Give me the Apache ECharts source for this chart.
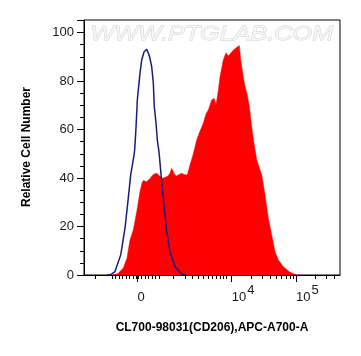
<!DOCTYPE html>
<html>
<head>
<meta charset="utf-8">
<script src="https://cdn.jsdelivr.net/npm/echarts@6/dist/echarts.min.js"></script>
<style>
  html, body { margin: 0; padding: 0; background: #fff; }
  #chart { width: 361px; height: 356px; }
</style>
</head>
<body>
<div id="chart"></div>
<script>
// x is in display units of the biexponential scale: 10^4 -> 4, 10^5 -> 5
const X_MIN = 1.703;
const X_MAX = 5.684;
const ZERO_POS = 2.535;

const xMajorTicks = [ZERO_POS, 4, 5];
const xMajorLabels = ['0', '10|4', '10|5'];
const xMinorTicks = [
  1.874, 2.138, 2.193, 2.247, 2.302, 2.356, 2.411, 2.465, 2.512, 2.551,
  2.597, 2.652, 2.706, 2.760, 2.815, 2.869, 3.087, 3.274, 3.383, 3.476,
  3.554, 3.632, 3.693, 3.764, 3.818, 3.872, 3.919,
  4.301, 4.477, 4.602, 4.699, 4.778, 4.845, 4.903, 4.954,
  5.301, 5.477, 5.602
];

// blue outline: control sample
const controlCurve = [
  [2.061, 0], [2.107, 0], [2.185, 1.4], [2.274, 8.3], [2.341, 19.4],
  [2.392, 31.8], [2.429, 41.3], [2.481, 49.5], [2.491, 51.6], [2.507, 58.6],
  [2.523, 66.8], [2.532, 72.2], [2.547, 76.3], [2.574, 83.3], [2.600, 88.7],
  [2.636, 92.0], [2.678, 93.1], [2.703, 91.6], [2.729, 89.4], [2.745, 90.1],
  [2.756, 85.9], [2.781, 79.2], [2.796, 69.4], [2.823, 62.7], [2.843, 55.7],
  [2.865, 51.6], [2.874, 49.5], [2.911, 38.5], [2.947, 28.9], [2.989, 17.9],
  [3.040, 9.6], [3.118, 3.4], [3.222, 0.4], [3.289, 0]
];

// red filled: CD206 stained sample
const stainedCurve = [
  [2.158, 0], [2.232, 0.6], [2.314, 2.9], [2.372, 7.0], [2.418, 14.4],
  [2.470, 18.6], [2.523, 26.1], [2.574, 34.4], [2.605, 38.0], [2.625, 39.0],
  [2.652, 39.6], [2.678, 38.5], [2.729, 39.8], [2.781, 41.5], [2.834, 42.0],
  [2.885, 40.6], [2.932, 39.9], [2.963, 40.2], [3.009, 40.8], [3.040, 42.0],
  [3.067, 44.0], [3.087, 44.6], [3.103, 42.0], [3.134, 40.8], [3.170, 41.3],
  [3.222, 42.0], [3.258, 41.5], [3.309, 41.3], [3.351, 45.4], [3.398, 49.5],
  [3.456, 55.7], [3.507, 59.4], [3.558, 62.6], [3.600, 66.4], [3.636, 68.1],
  [3.689, 72.2], [3.725, 72.9], [3.756, 70.1], [3.792, 76.3], [3.818, 81.8],
  [3.844, 85.4], [3.869, 88.7], [3.911, 91.7], [3.947, 90.3], [3.984, 91.5],
  [4.025, 92.8], [4.078, 93.9], [4.118, 94.7], [4.132, 94.1], [4.140, 88.7],
  [4.171, 83.2], [4.207, 77.7], [4.243, 74.3], [4.274, 69.4], [4.311, 61.2],
  [4.347, 54.3], [4.389, 47.4], [4.467, 41.3], [4.518, 33.0], [4.569, 23.4],
  [4.622, 16.5], [4.673, 9.6], [4.725, 6.2], [4.802, 3.4], [4.907, 1.1],
  [5.011, 0]
];

const Y_MAX = 105.2;
const FONT = '"Liberation Sans", Arial, sans-serif';

const chart = echarts.init(document.getElementById('chart'));

// every label gets a (possibly empty) superscript part so all baselines line up
const xLabel = (v) => {
  const i = xMajorTicks.findIndex(t => Math.abs(t - v) < 1e-6);
  if (i < 0) return '';
  const parts = xMajorLabels[i].split('|');
  return '{b|' + parts[0] + '}{s|' + (parts[1] || ' ') + '}';
};

chart.setOption({
  animation: false,
  backgroundColor: '#fff',
  grid: {
    left: 84, right: 21, top: 20, bottom: 81,
    show: true, borderColor: '#000', borderWidth: 1
  },
  xAxis: [
    {
      type: 'value', min: X_MIN, max: X_MAX,
      axisLine: { show: true, lineStyle: { color: '#000', width: 1 } },
      axisTick: { show: true, customValues: xMajorTicks, length: 7, lineStyle: { color: '#000' } },
      axisLabel: {
        show: true, customValues: xMajorTicks, margin: 9, align: 'left',
        formatter: xLabel,
        rich: {
          b: { fontSize: 13, fontFamily: FONT, color: '#1a1a1a', verticalAlign: 'bottom' },
          s: { fontSize: 13, fontFamily: FONT, color: '#1a1a1a', verticalAlign: 'top', padding: [0, 0, 7, 1] }
        }
      },
      splitLine: { show: false }
    },
    {
      type: 'value', min: X_MIN, max: X_MAX, position: 'bottom',
      axisLine: { show: false },
      axisTick: { show: true, customValues: xMinorTicks, length: 4, lineStyle: { color: '#000' } },
      axisLabel: { show: false },
      splitLine: { show: false }
    }
  ],
  yAxis: {
    type: 'value', min: 0, max: Y_MAX, interval: 20,
    axisLine: { show: true, lineStyle: { color: '#000', width: 1 } },
    axisTick: { show: true, length: 7, lineStyle: { color: '#000' } },
    minorTick: { show: true, splitNumber: 4, length: 4, lineStyle: { color: '#000' } },
    axisLabel: { fontSize: 13, fontFamily: FONT, color: '#1a1a1a', margin: 10 },
    splitLine: { show: false }
  },
  series: [
    {
      type: 'line', data: stainedCurve, xAxisIndex: 0,
      symbol: 'none', smooth: false,
      lineStyle: { color: '#ff0000', width: 0.5 },
      areaStyle: { color: '#ff0000', opacity: 1 },
      z: 2
    },
    {
      type: 'line', data: controlCurve, xAxisIndex: 0,
      symbol: 'none', smooth: false,
      lineStyle: { color: '#1a1a80', width: 1.5 },
      z: 3
    }
  ],
  graphic: [
    {
      type: 'text', left: 90, top: 23, z: 1, scaleX: 1.2,
      style: {
        text: 'WWW.PTGLAB.COM', fontSize: 21, fontFamily: FONT, fontStyle: 'italic',
        fill: '#f6f6f6', stroke: '#cccccc', lineWidth: 0.8
      }
    },
    {
      type: 'text', x: 212, y: 328,
      style: {
        text: 'CL700-98031(CD206),APC-A700-A', fontSize: 12, fontWeight: 'bold',
        fontFamily: FONT, fill: '#000', align: 'center', verticalAlign: 'middle'
      }
    },
    {
      type: 'text', x: 27, y: 147, rotation: Math.PI / 2,
      style: {
        text: 'Relative Cell Number', fontSize: 12, fontWeight: 'bold',
        fontFamily: FONT, fill: '#000', align: 'center', verticalAlign: 'middle'
      }
    }
  ]
});
</script>
</body>
</html>
